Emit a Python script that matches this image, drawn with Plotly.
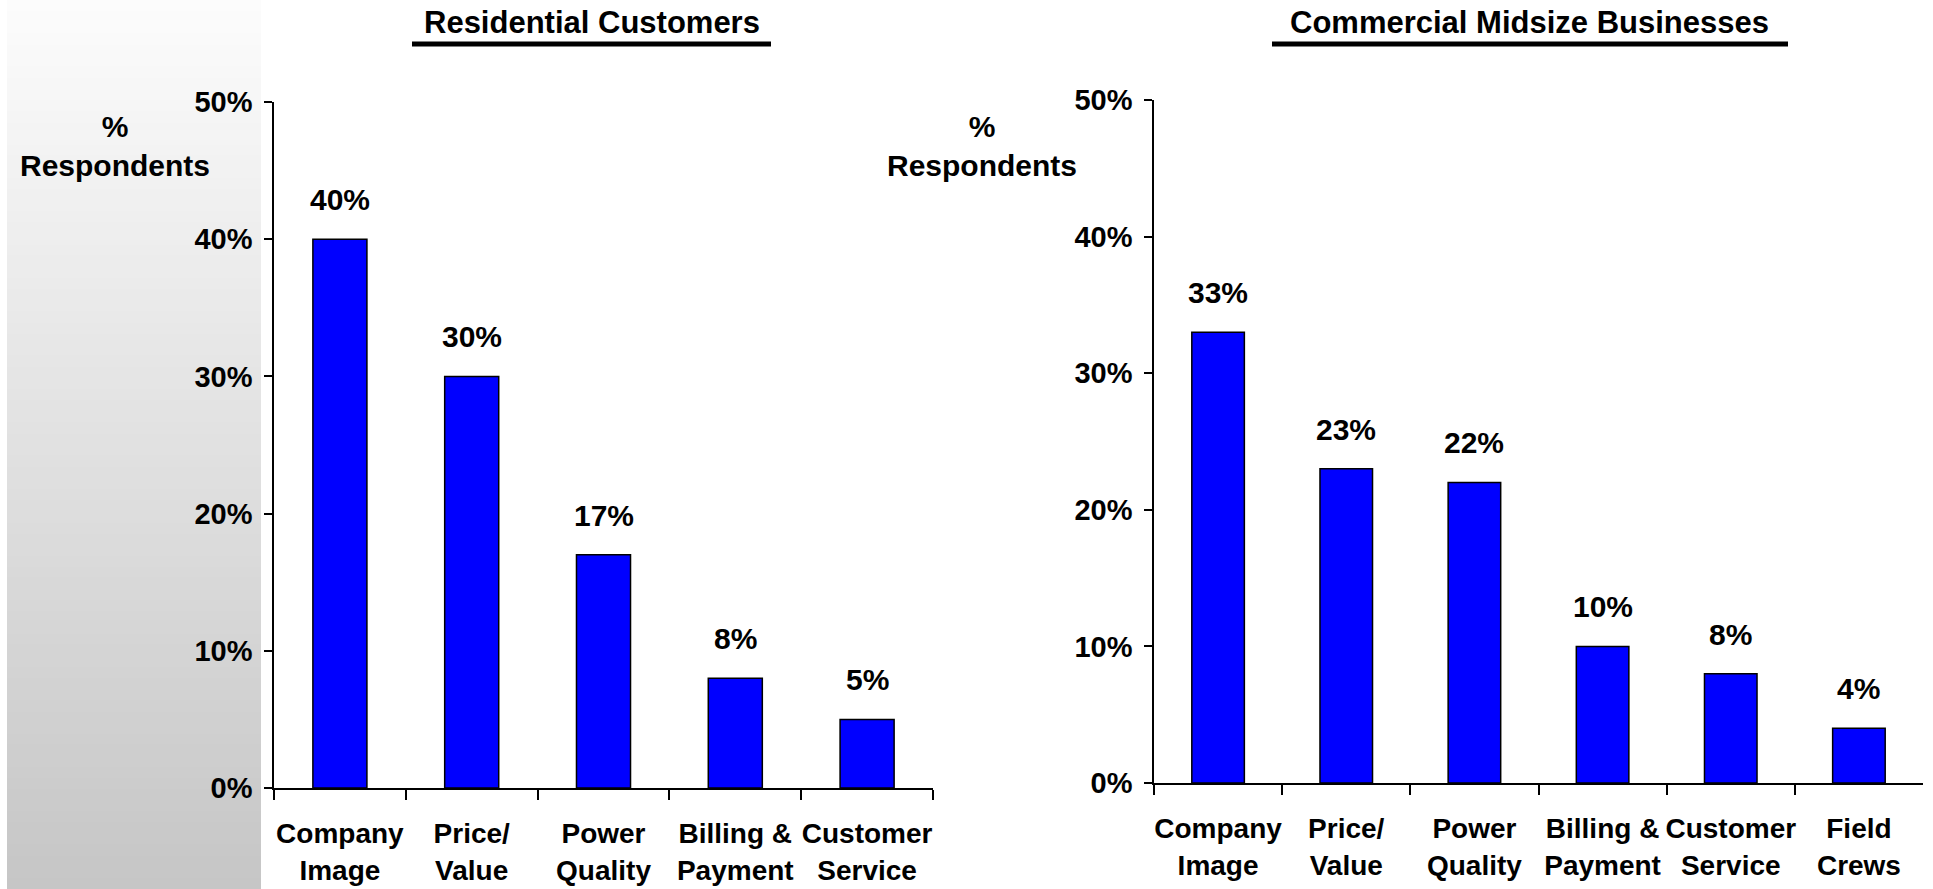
import plotly.graph_objects as go

# data
res_categories = ["Company<br>Image", "Price/<br>Value", "Power<br>Quality",
                  "Billing &<br>Payment", "Customer<br>Service"]
res_values = [0.40, 0.30, 0.17, 0.08, 0.05]

com_categories = ["Company<br>Image", "Price/<br>Value", "Power<br>Quality",
                  "Billing &<br>Payment", "Customer<br>Service", "Field<br>Crews"]
com_values = [0.33, 0.23, 0.22, 0.10, 0.08, 0.04]

titles = ["Residential Customers", "Commercial Midsize Businesses"]
y_label = "%<br>Respondents"

W, H = 1933, 889
FONT = "Liberation Sans, Arial, sans-serif"


def px_x(x):
    return x / W


def px_y(y):
    return (H - y) / H


fig = go.Figure()

fig.add_trace(go.Bar(x=res_categories, y=res_values, width=0.41,
                     marker=dict(color="#0000ff", line=dict(color="black", width=1.5)),
                     xaxis="x", yaxis="y", showlegend=False))
fig.add_trace(go.Bar(x=com_categories, y=com_values, width=0.41,
                     marker=dict(color="#0000ff", line=dict(color="black", width=1.5)),
                     xaxis="x2", yaxis="y2", showlegend=False))

# value labels above bars
annotations = []
for cats, vals, xr, yr in [(res_categories, res_values, "x", "y"),
                           (com_categories, com_values, "x2", "y2")]:
    for c, v in zip(cats, vals):
        annotations.append(dict(x=c, y=v, xref=xr, yref=yr, text=f"{v:.0%}",
                                showarrow=False, yanchor="bottom", yshift=21,
                                font=dict(family=FONT, size=30, color="black", weight="bold")))

# panel titles
for t, cx in zip(titles, [592, 1529]):
    annotations.append(dict(x=px_x(cx), y=px_y(22), xref="paper", yref="paper", text=t,
                            showarrow=False, xanchor="center", yanchor="middle",
                            font=dict(family=FONT, size=31, color="black", weight="bold")))

# y axis labels
for cx in [115, 982]:
    annotations.append(dict(x=px_x(cx), y=px_y(146), xref="paper", yref="paper", text=y_label,
                            showarrow=False, xanchor="center", yanchor="middle",
                            font=dict(family=FONT, size=30, color="black", weight="bold")))

shapes = []
# grey gradient strip on the left
n = 80
for i in range(n):
    g = round(252 - (252 - 198) * i / (n - 1))
    shapes.append(dict(type="rect", xref="paper", yref="paper", layer="below",
                       x0=px_x(7), x1=px_x(261), y0=1 - i / n, y1=1 - (i + 1) / n - 0.001,
                       line=dict(width=0), fillcolor=f"rgb({g},{g},{g})"))

# title underlines
for x0, x1 in [(412, 771), (1272, 1788)]:
    shapes.append(dict(type="line", xref="paper", yref="paper",
                       x0=px_x(x0), x1=px_x(x1), y0=px_y(44), y1=px_y(44),
                       line=dict(color="black", width=5)))

tick_font = dict(family=FONT, size=29, color="black", weight="bold")
cat_font = dict(family=FONT, size=28, color="black", weight="bold")

xaxis_common = dict(showline=True, linecolor="black", linewidth=1.5, ticks="outside",
                    tickson="boundaries", ticklen=10, tickcolor="black", tickwidth=1.5,
                    tickfont=cat_font, tickangle=0, showgrid=False, zeroline=False,
                    ticklabelstandoff=20, automargin=False, fixedrange=True)
yaxis_common = dict(showline=True, linecolor="black", linewidth=1.5, ticks="outside",
                    ticklen=8, tickcolor="black", tickwidth=1.5, range=[0, 0.5],
                    dtick=0.1, tickformat=".0%", tickfont=tick_font, showgrid=False,
                    zeroline=False, ticklabelstandoff=6, automargin=False, fixedrange=True)

fig.update_layout(
    width=W, height=H,
    margin=dict(l=0, r=0, t=0, b=0, pad=0),
    paper_bgcolor="white", plot_bgcolor="rgba(0,0,0,0)",
    xaxis=dict(domain=[px_x(274), px_x(933)], anchor="y", **xaxis_common),
    yaxis=dict(domain=[px_y(788), px_y(102)], anchor="x", **yaxis_common),
    xaxis2=dict(domain=[px_x(1154), px_x(1923)], anchor="y2", **xaxis_common),
    yaxis2=dict(domain=[px_y(783), px_y(100)], anchor="x2", **yaxis_common),
    annotations=annotations,
    shapes=shapes,
)

fig.write_html("out.html", config={"displayModeBar": False},
               post_script="document.body.style.margin='0';document.body.style.overflow='hidden';")
